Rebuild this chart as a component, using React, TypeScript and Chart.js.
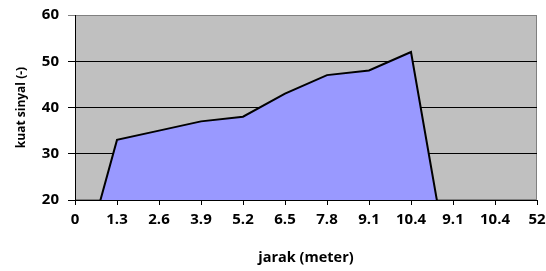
import React, { useEffect, useRef } from "react";
import { Chart, registerables } from "chart.js";

Chart.register(...registerables);

const categories = ["0", "1.3", "2.6", "3.9", "5.2", "6.5", "7.8", "9.1", "10.4", "9.1", "10.4", "52"];
const signal = [0, 33, 35, 37, 38, 43, 47, 48, 52, 0, 0, 0];
const yTicks = [20, 30, 40, 50, 60];

const FONT = "'Open Sans', 'DejaVu Sans', sans-serif";

const plotBg = {
  id: "plotBg",
  beforeDraw(chart: any) {
    const { ctx, chartArea: a } = chart;
    ctx.save();
    ctx.fillStyle = "#C0C0C0";
    ctx.fillRect(a.left, a.top, a.right - a.left, a.bottom - a.top);
    ctx.strokeStyle = "#808080";
    ctx.lineWidth = 1;
    ctx.strokeRect(a.left + 0.5, a.top + 0.5, a.right - a.left - 1, a.bottom - a.top - 1);
    ctx.restore();
  },
};

const noPad = (s: any) => {
  s.paddingLeft = 0;
  s.paddingRight = 0;
  s.paddingTop = 0;
  s.paddingBottom = 0;
};

export default function App() {
  const ref = useRef<HTMLCanvasElement>(null);
  useEffect(() => {
    document.body.style.margin = "0";
    const chart = new Chart(ref.current!, {
      type: "line",
      data: {
        labels: categories,
        datasets: [
          {
            data: signal,
            borderColor: "#000000",
            borderWidth: 2,
            backgroundColor: "#9999FF",
            fill: "origin",
            pointRadius: 0,
            tension: 0,
          },
        ],
      },
      options: {
        animation: false,
        responsive: false,
        layout: { padding: { left: 14, right: 9, top: 15, bottom: 4 } },
        plugins: { legend: { display: false }, tooltip: { enabled: false } },
        scales: {
          x: {
            offset: false,
            grid: { drawOnChartArea: false, drawTicks: true, tickLength: 5, color: "#000000" },
            border: { color: "#000000", width: 1 },
            ticks: {
              autoSkip: false,
              maxRotation: 0,
              padding: 6,
              color: "#000000",
              font: { family: FONT, size: 15, weight: "bold" },
            },
            title: {
              display: true,
              text: "jarak (meter)",
              color: "#000000",
              padding: { top: 10, bottom: 0 },
              font: { family: FONT, size: 14.5, weight: "bold" },
            },
            afterFit: (s: any) => {
              s.height = 67;
              noPad(s);
            },
          },
          y: {
            min: 20,
            max: 60,
            afterBuildTicks: (s: any) => {
              s.ticks = yTicks.map((v) => ({ value: v }));
            },
            grid: {
              color: (c: any) => (c.tick && c.tick.value === 60 ? "#808080" : "#000000"),
              tickLength: 7,
            },
            border: { color: "#000000", width: 1 },
            ticks: {
              padding: 9,
              color: "#000000",
              font: { family: FONT, size: 15, weight: "bold" },
            },
            title: {
              display: true,
              text: "kuat sinyal (-)",
              color: "#000000",
              padding: { top: 0, bottom: 6 },
              font: { family: FONT, size: 12, weight: "bold" },
            },
            afterFit: (s: any) => {
              s.width = 61;
              noPad(s);
            },
          },
        },
      },
      plugins: [plotBg],
    });
    return () => chart.destroy();
  }, []);
  return (
    <div style={{ position: "absolute", left: 0, top: 0, width: 546, height: 271, background: "#fff" }}>
      <canvas ref={ref} width={546} height={271} />
    </div>
  );
}
